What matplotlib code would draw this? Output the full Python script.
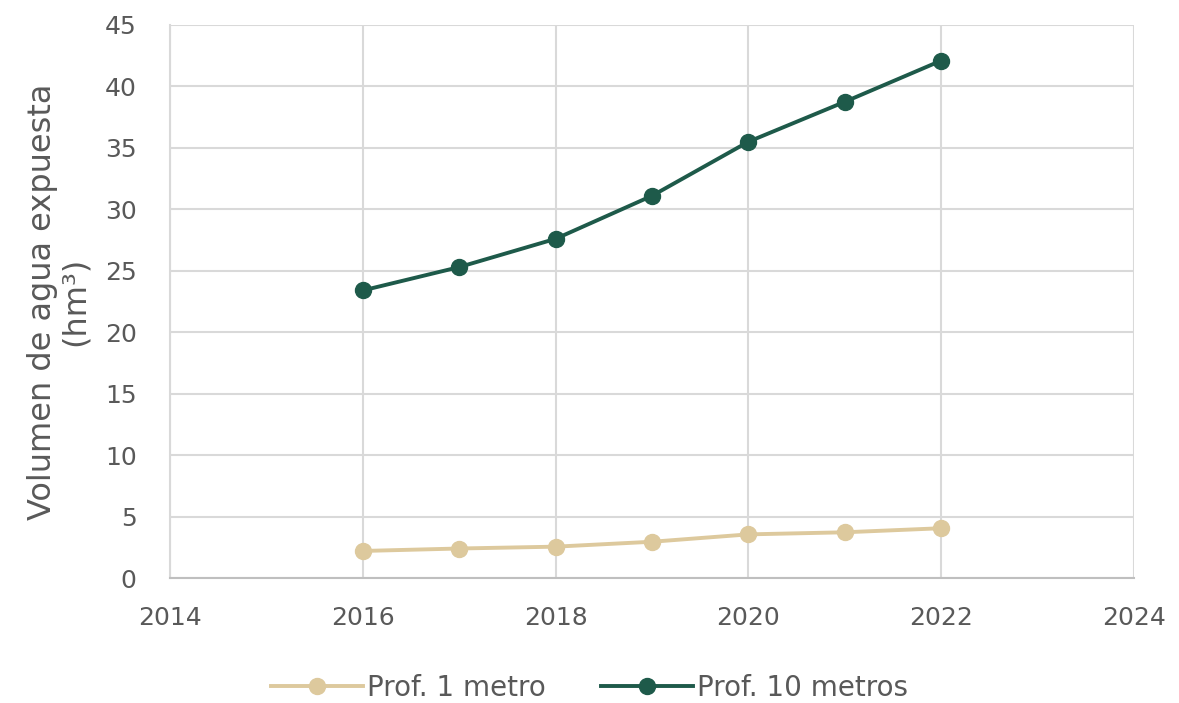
import matplotlib.pyplot as plt

# exposed water volume by year, two depth scenarios (hm3)
years = [2016, 2017, 2018, 2019, 2020, 2021, 2022]
prof_1m = [2.2, 2.4, 2.55, 2.95, 3.55, 3.72, 4.05]
prof_10m = [23.4, 25.3, 27.6, 31.1, 35.5, 38.75, 42.1]

BEIGE = '#DDC99D'
GREEN = '#1E5A4A'
TEXT = '#595959'
GRID = '#D9D9D9'

plt.rcParams['font.family'] = ['DejaVu Sans']

fig = plt.figure(figsize=(11.79, 7.03), dpi=100)
ax = fig.add_axes([170 / 1179, 1 - 578 / 703, 964 / 1179, 553 / 703])

ax.plot(years, prof_1m, color=BEIGE, lw=2.8, marker='o', ms=11.5, label='Prof. 1 metro', zorder=3)
ax.plot(years, prof_10m, color=GREEN, lw=2.8, marker='o', ms=11.5, label='Prof. 10 metros', zorder=3)

ax.set_xlim(2014, 2024)
ax.set_ylim(0, 45)
ax.set_xticks(range(2014, 2025, 2))
ax.set_yticks(range(0, 46, 5))
ax.grid(True, color=GRID, lw=1.5)
ax.set_axisbelow(True)

for side in ['top', 'right']:
    ax.spines[side].set_visible(False)
ax.spines['left'].set_color(GRID)
ax.spines['left'].set_linewidth(1.5)
ax.spines['bottom'].set_color('#BFBFBF')
ax.spines['bottom'].set_linewidth(1.5)

ax.tick_params(length=0, labelsize=18, colors=TEXT)
ax.tick_params(axis='y', pad=24)
ax.tick_params(axis='x', pad=20)
ax.set_ylabel('Volumen de agua expuesta\n(hm³)', fontsize=23, color=TEXT, labelpad=10,
              linespacing=1.1)

fig.legend(loc='center', bbox_to_anchor=(0.5, 1 - 688 / 703), ncol=2,
           frameon=False, fontsize=20, labelcolor=TEXT, handlelength=3.3,
           handletextpad=0.15, columnspacing=2.0)

fig.savefig('out.png', dpi=100, facecolor='white')
